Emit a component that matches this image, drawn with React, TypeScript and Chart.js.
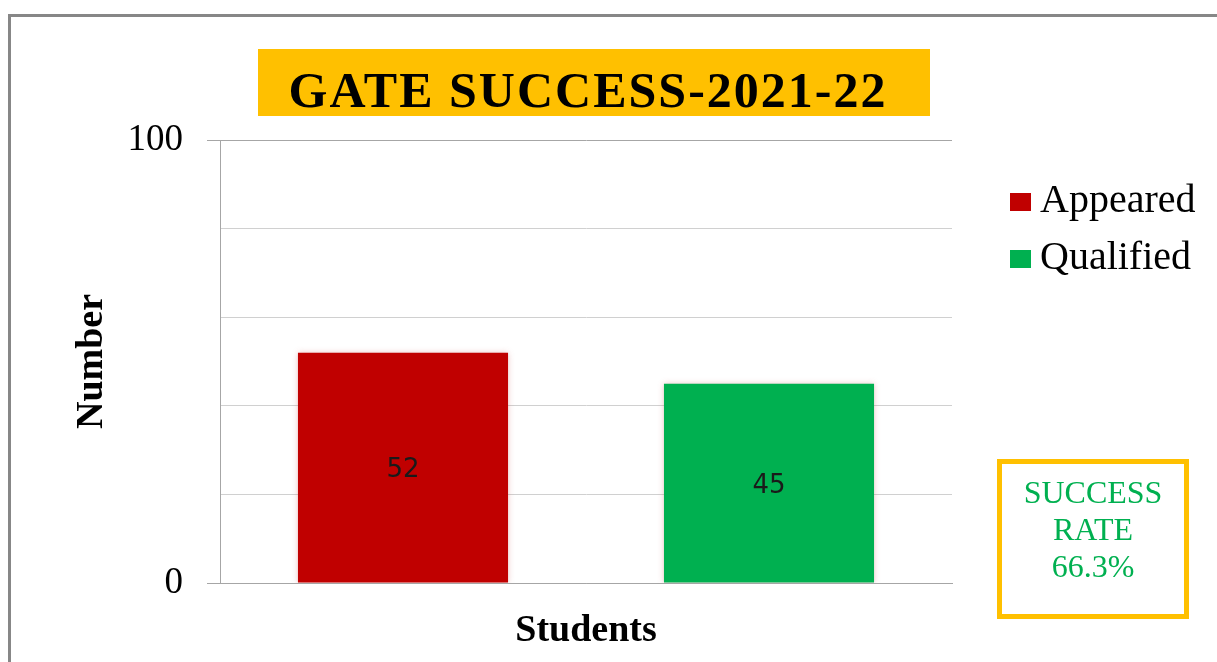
import React, { useEffect, useRef } from "react";
import { Chart, registerables } from "chart.js";

Chart.register(...registerables);

const categories = ["Students"];
const seriesNames = ["Appeared", "Qualified"];
const appeared = [52];
const qualified = [45];
const seriesColors = ["#C00000", "#00B050"];
const yTickLabels = [0, 100];
const titleText = "GATE SUCCESS-2021-22";
const successLines = ["SUCCESS", "RATE", "66.3%"];
const yAxisTitle = "Number";
const xAxisTitle = "Students";

const SERIF = '"Liberation Serif", "Times New Roman", serif';

const decorPlugin = {
  id: "decor",
  beforeDraw(chart: any) {
    const ctx = chart.ctx as CanvasRenderingContext2D;
    ctx.save();
    ctx.fillStyle = "#ffffff";
    ctx.fillRect(0, 0, chart.width, chart.height);
    // outer frame
    ctx.strokeStyle = "#878787";
    ctx.lineWidth = 3;
    ctx.strokeRect(9.5, 15.5, chart.width + 50, chart.height + 50);
    // title box
    ctx.fillStyle = "#FFC000";
    ctx.fillRect(258, 49, 672, 67);
    ctx.fillStyle = "#000000";
    ctx.font = "bold 50px " + SERIF;
    (ctx as any).letterSpacing = "2px";
    ctx.textAlign = "center";
    ctx.textBaseline = "alphabetic";
    ctx.fillText(titleText, 588, 107);
    (ctx as any).letterSpacing = "0px";
    ctx.restore();
  },
  beforeDatasetDraw(chart: any) {
    const ctx = chart.ctx as CanvasRenderingContext2D;
    ctx.save();
    ctx.shadowColor = "rgba(200,80,80,0.35)";
    ctx.shadowBlur = 6;
  },
  afterDatasetDraw(chart: any) {
    chart.ctx.restore();
  },
  afterDatasetsDraw(chart: any) {
    const ctx = chart.ctx as CanvasRenderingContext2D;
    ctx.save();
    ctx.font = '26px "DejaVu Sans", sans-serif';
    ctx.fillStyle = "#1a1a1a";
    ctx.textAlign = "center";
    ctx.textBaseline = "middle";
    chart.data.datasets.forEach((ds: any, di: number) => {
      const meta = chart.getDatasetMeta(di);
      meta.data.forEach((bar: any, i: number) => {
        const v = ds.data[i];
        ctx.fillText(String(v), bar.x, (bar.y + bar.base) / 2 + 3);
      });
    });
    ctx.restore();
  },
  afterDraw(chart: any) {
    const ctx = chart.ctx as CanvasRenderingContext2D;
    ctx.save();
    // legend
    ctx.font = "40px " + SERIF;
    ctx.textAlign = "left";
    ctx.textBaseline = "alphabetic";
    chart.data.datasets.forEach((ds: any, i: number) => {
      const base = 212 + i * 57;
      ctx.fillStyle = ds.backgroundColor;
      ctx.fillRect(1010, base - 19, 21, 18);
      ctx.fillStyle = "#000000";
      ctx.fillText(ds.label, 1040, base);
    });
    // success rate box
    ctx.strokeStyle = "#FFC000";
    ctx.lineWidth = 5;
    ctx.strokeRect(999.5, 461.5, 187, 155);
    ctx.fillStyle = "#00B050";
    ctx.font = "32px " + SERIF;
    ctx.textAlign = "center";
    successLines.forEach((t, i) => {
      ctx.fillText(t, 1093, 503 + i * 37);
    });
    ctx.restore();
  },
};

export default function App() {
  const ref = useRef<HTMLCanvasElement | null>(null);

  useEffect(() => {
    if (!ref.current) return;
    const chart = new Chart(ref.current, {
      type: "bar",
      data: {
        labels: categories,
        datasets: [
          {
            label: seriesNames[0],
            data: appeared,
            backgroundColor: seriesColors[0],
            categoryPercentage: 1,
            barPercentage: 0.574,
          },
          {
            label: seriesNames[1],
            data: qualified,
            backgroundColor: seriesColors[1],
            categoryPercentage: 1,
            barPercentage: 0.574,
          },
        ],
      },
      options: {
        animation: false,
        responsive: false,
        devicePixelRatio: 1,
        layout: { padding: { top: 140, right: 265, bottom: 0, left: 0 } },
        plugins: {
          legend: { display: false },
          title: { display: false },
          tooltip: { enabled: false },
        },
        scales: {
          x: {
            offset: true,
            ticks: { display: false },
            grid: { display: false },
            border: { display: true, color: "#a6a6a6", width: 1 },
            title: {
              display: true,
              text: xAxisTitle,
              color: "#000000",
              font: { family: SERIF, size: 38, weight: "bold" },
              padding: { top: 0, bottom: 8 },
            },
            afterFit: (s: any) => {
              s.height = 79;
            },
          },
          y: {
            min: 0,
            max: 100,
            ticks: {
              stepSize: 20,
              autoSkip: false,
              padding: 24,
              color: "#000000",
              font: { family: SERIF, size: 37 },
              callback: (v: any) => (yTickLabels.includes(Number(v)) ? String(v) : ""),
            },
            grid: {
              drawTicks: true,
              tickLength: 13,
              color: (c: any) =>
                c.tick && yTickLabels.includes(c.tick.value) ? "#a6a6a6" : "#d0d0d0",
              tickColor: (c: any) =>
                c.tick && yTickLabels.includes(c.tick.value) ? "#a6a6a6" : "rgba(0,0,0,0)",
            },
            border: { display: true, color: "#a6a6a6", width: 1 },
            title: {
              display: true,
              text: yAxisTitle,
              color: "#000000",
              font: { family: SERIF, size: 38, weight: "bold" },
              padding: { top: 69, bottom: 0 },
            },
            afterFit: (s: any) => {
              s.width = 220;
            },
          },
        },
      } as any,
      plugins: [decorPlugin],
    });
    return () => chart.destroy();
  }, []);

  return (
    <div
      style={{
        position: "fixed",
        left: 0,
        top: 0,
        width: 1217,
        height: 662,
        background: "#ffffff",
      }}
    >
      <canvas ref={ref} width={1217} height={662} style={{ width: 1217, height: 662, display: "block" }} />
    </div>
  );
}
